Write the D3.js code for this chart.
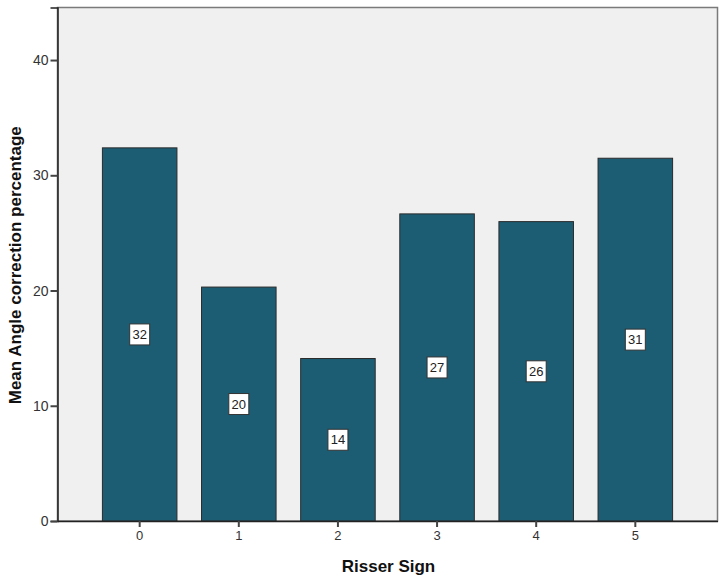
<!DOCTYPE html>
<html>
<head>
<meta charset="utf-8">
<script src="https://cdn.jsdelivr.net/npm/d3@7"></script>
<style>
  body { margin: 0; background: #fff; }
  svg { display: block; font-family: Arial, "Liberation Sans", sans-serif; }
</style>
</head>
<body>
<svg id="chart" width="726" height="582"></svg>
<script>
// data
const categories = ['0', '1', '2', '3', '4', '5'];
const meanValues = [32.38, 20.3, 14.1, 26.65, 25.98, 31.48];
const yTicks = [0, 10, 20, 30, 40];

(function () {
    let svg = d3.select('#chart'),
        margin = { top: 7.5, right: 8.5, bottom: 61, left: 57.5 },
        width = svg.attr('width') - margin.left - margin.right,
        height = svg.attr('height') - margin.top - margin.bottom,
        g = svg.append('g').attr('transform', `translate(${margin.left},${margin.top})`)
    ;
    let x = d3.scaleBand().domain(categories).range([0, width]).paddingInner(0.248).paddingOuter(0.453),
        y = d3.scaleLinear().domain([0, 44.56]).range([height, 0])
    ;

    // plot background + frame
    g.append('rect')
        .attr('width', width).attr('height', height)
        .attr('fill', '#f0f0f0')
        .attr('stroke', '#7a7a7a').attr('stroke-width', 1.5);

    // bars
    let bars = g.selectAll('.bar')
        .data(meanValues)
        .enter().append('g')
        .attr('class', 'bar');

    bars.append('rect')
        .attr('x', (d, i) => x(categories[i]))
        .attr('y', d => y(d))
        .attr('width', x.bandwidth())
        .attr('height', d => y(0) - y(d))
        .attr('fill', '#1c5d74')
        .attr('stroke', '#2b2b2b')
        .attr('stroke-width', 1);

    // value labels in white boxes at mid height
    let lab = bars.append('g')
        .attr('transform', (d, i) => `translate(${x(categories[i]) + x.bandwidth() / 2},${y(d / 2)})`);
    lab.append('rect')
        .attr('x', -10).attr('y', -10.5)
        .attr('width', 20).attr('height', 21)
        .attr('fill', '#fff')
        .attr('stroke', '#333').attr('stroke-width', 1);
    lab.append('text')
        .attr('text-anchor', 'middle')
        .attr('dy', '0.36em')
        .style('font-size', '13px')
        .attr('fill', '#222')
        .text(d => Math.round(d));

    // axes
    let yAxis = g.append('g')
        .call(d3.axisLeft(y).tickValues(yTicks).tickSize(7).tickPadding(2).tickFormat(d3.format('d')));
    yAxis.select('.domain').attr('stroke', '#222').attr('stroke-width', 1.5);
    yAxis.selectAll('.tick line').attr('stroke', '#444').attr('stroke-width', 2);
    yAxis.selectAll('.tick text').style('font-size', '14px').attr('fill', '#333');

    let xAxis = g.append('g')
        .attr('transform', `translate(0,${height})`)
        .call(d3.axisBottom(x).tickSize(6).tickSizeOuter(0).tickPadding(4));
    xAxis.select('.domain').attr('stroke', '#222').attr('stroke-width', 1.5);
    xAxis.selectAll('.tick line').attr('stroke', '#444').attr('stroke-width', 2);
    xAxis.selectAll('.tick text').style('font-size', '13px').attr('fill', '#333');

    // axis titles
    svg.append('text')
        .attr('x', margin.left + width / 2 + 1)
        .attr('y', 572)
        .attr('text-anchor', 'middle')
        .style('font-size', '17px').style('font-weight', 'bold')
        .attr('fill', '#111')
        .text('Risser Sign');

    svg.append('text')
        .attr('transform', `translate(21,${margin.top + height / 2 + 1}) rotate(-90)`)
        .attr('text-anchor', 'middle')
        .style('font-size', '17px').style('font-weight', 'bold')
        .attr('fill', '#111')
        .text('Mean Angle correction percentage');
}());
</script>
</body>
</html>
